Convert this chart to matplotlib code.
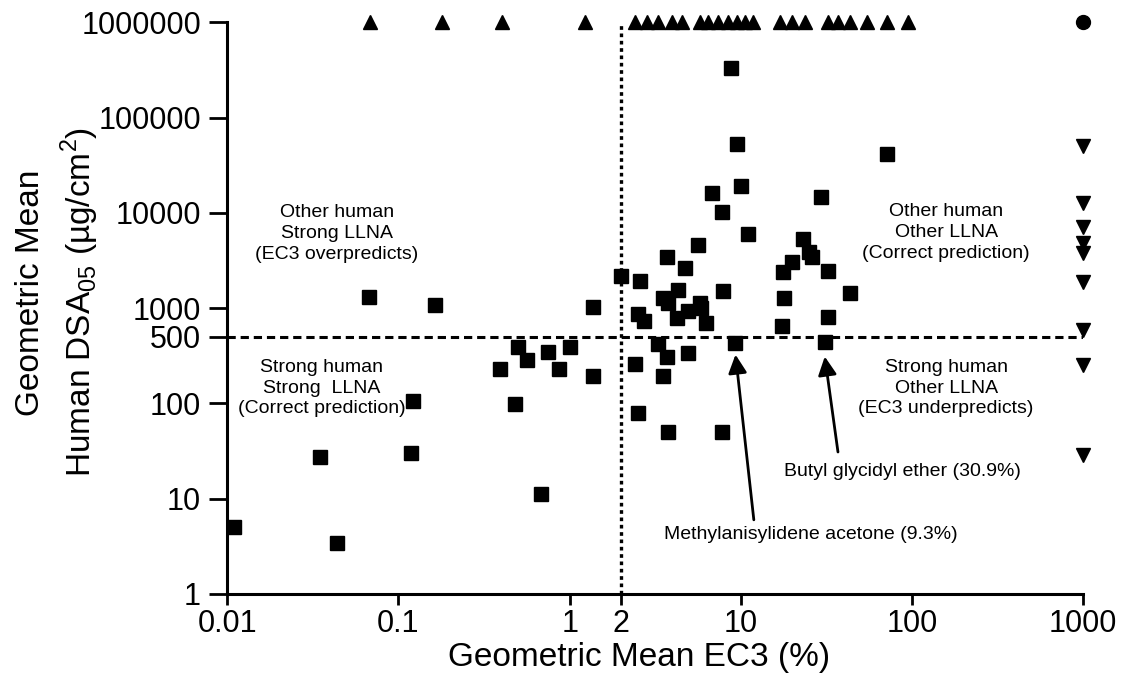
import matplotlib
matplotlib.use("Agg")
import matplotlib.pyplot as plt
from matplotlib.ticker import NullLocator

plt.rcParams['font.family'] = ['Liberation Sans', 'DejaVu Sans']

# squares: chemicals with both human DSA05 and LLNA EC3
sq_ec3 = [0.011, 0.044, 0.035, 0.118, 0.122, 0.067, 0.163, 0.68, 0.48, 0.39,
          0.50, 0.56, 0.75, 0.87, 1.01, 1.37, 1.37, 2.0, 2.57, 2.50,
          2.73, 3.49, 3.74, 4.27, 5.77, 5.85, 4.93, 4.25, 6.25, 7.89,
          3.69, 4.73, 5.59, 11.05, 3.27, 3.72, 4.93, 9.3, 2.41, 3.49,
          2.50, 3.77, 7.79, 8.75, 9.45, 71.6, 10.0, 6.81, 7.76, 29.5,
          23.0, 25.1, 25.9, 20.0, 17.7, 32.4, 17.9, 43.4, 32.4, 17.3,
          30.9]
sq_dsa = [5.1, 3.45, 27.6, 30.4, 107, 1300, 1080, 11.1, 99, 228,
          394, 285, 349, 228, 388, 192, 1020, 2170, 1940, 867,
          738, 1267, 1140, 1550, 1140, 995, 932, 782, 703, 1510,
          3460, 2620, 4590, 5990, 417, 305, 336, 427, 262, 194,
          80, 50, 50, 333000, 52300, 41400, 19250, 16250, 10200, 14500,
          5270, 3910, 3410, 3020, 2410, 2470, 1267, 1440, 816, 649,
          444]

# up triangles: EC3 known, no human DSA05 (plotted at top)
up_ec3 = [0.068, 0.18, 0.40, 1.23, 2.41, 2.82, 3.29, 3.94, 4.51, 5.77,
          6.45, 7.38, 8.44, 9.45, 10.6, 11.8, 16.9, 19.8, 23.7, 32.4,
          37.0, 43.4, 54.3, 71.1, 95.1]
up_dsa = [1000000] * len(up_ec3)

# down triangles: human DSA05 known, LLNA negative (plotted at 1000)
down_dsa = [50200, 12600, 7150, 4820, 3790, 1890, 589, 253, 28.7]
down_ec3 = [1000] * len(down_dsa)

# circle: neither
circ_ec3 = [1000]
circ_dsa = [1000000]

xticks = [0.01, 0.1, 1, 2, 10, 100, 1000]
xticklabels = ['0.01', '0.1', '1', '2', '10', '100', '1000']
yticks = [1, 10, 100, 500, 1000, 10000, 100000, 1000000]
yticklabels = ['1', '10', '100', '500', '1000', '10000', '100000', '1000000']

fig = plt.figure(figsize=(11.24, 6.79), dpi=100)
ax = fig.add_axes([0.2022, 0.1252, 0.7616, 0.8421])
ax.set_xscale('log')
ax.set_yscale('log')
ax.set_xlim(0.01, 1000)
ax.set_ylim(1, 1000000)

# threshold lines
ax.plot([0.01, 1000], [500, 500], color='black', lw=2.2, dashes=(2.7, 1.6), zorder=1)
ax.plot([2, 2], [1, 1000000], color='black', lw=2.4, dashes=(1.1, 1.1), zorder=1)

ax.plot(sq_ec3, sq_dsa, 's', color='black', ms=9.5, clip_on=False, zorder=3)
ax.plot(up_ec3, up_dsa, '^', color='black', ms=10, clip_on=False, zorder=3)
ax.plot(down_ec3, down_dsa, 'v', color='black', ms=10, clip_on=False, zorder=3)
ax.plot(circ_ec3, circ_dsa, 'o', color='black', ms=10, clip_on=False, zorder=3)

for s in ['top', 'right']:
    ax.spines[s].set_visible(False)
for s in ['left', 'bottom']:
    ax.spines[s].set_linewidth(2.2)

ax.set_xticks(xticks)
ax.set_xticklabels(xticklabels)
ax.set_yticks(yticks)
ax.set_yticklabels(yticklabels)
ax.xaxis.set_minor_locator(NullLocator())
ax.yaxis.set_minor_locator(NullLocator())
ax.tick_params(axis='x', direction='out', length=8, width=2, labelsize=22, pad=3)
ax.tick_params(axis='y', direction='out', length=13, width=2, labelsize=22, pad=6)

fig.text(0.569, 0.032, 'Geometric Mean EC3 (%)', fontsize=24,
         ha='center', va='center')
fig.text(0.0267, 0.5685, 'Geometric Mean', rotation=90, fontsize=24,
         ha='center', va='center')
fig.text(0.071, 0.555, r'Human DSA$_{\mathregular{05}}$ (µg/cm$^{\mathregular{2}}$)',
         rotation=90, fontsize=24, ha='center', va='center')

box_kw = dict(fontsize=14, ha='center', va='center', linespacing=1.3)
ax.text(0.0437, 6100, 'Other human\nStrong LLNA\n(EC3 overpredicts)', **box_kw)
ax.text(0.0357, 145, 'Strong human\nStrong  LLNA\n(Correct prediction)', **box_kw)
ax.text(158, 6200, 'Other human\nOther LLNA\n(Correct prediction)', **box_kw)
ax.text(158, 145, 'Strong human\nOther LLNA\n(EC3 underpredicts)', **box_kw)

arrow_kw = dict(arrowstyle='-|>', color='black', lw=2, mutation_scale=28,
                shrinkA=0, shrinkB=0)
ax.annotate('', xy=(9.3, 325), xytext=(11.9, 6.0), arrowprops=arrow_kw)
ax.annotate('', xy=(30.9, 310), xytext=(36.9, 30.9), arrowprops=arrow_kw)
ax.text(88, 19.5, 'Butyl glycidyl ether (30.9%)', fontsize=14, ha='center', va='center')
ax.text(25.6, 4.16, 'Methylanisylidene acetone (9.3%)', fontsize=14, ha='center', va='center')

fig.savefig('out.png', dpi=100)
